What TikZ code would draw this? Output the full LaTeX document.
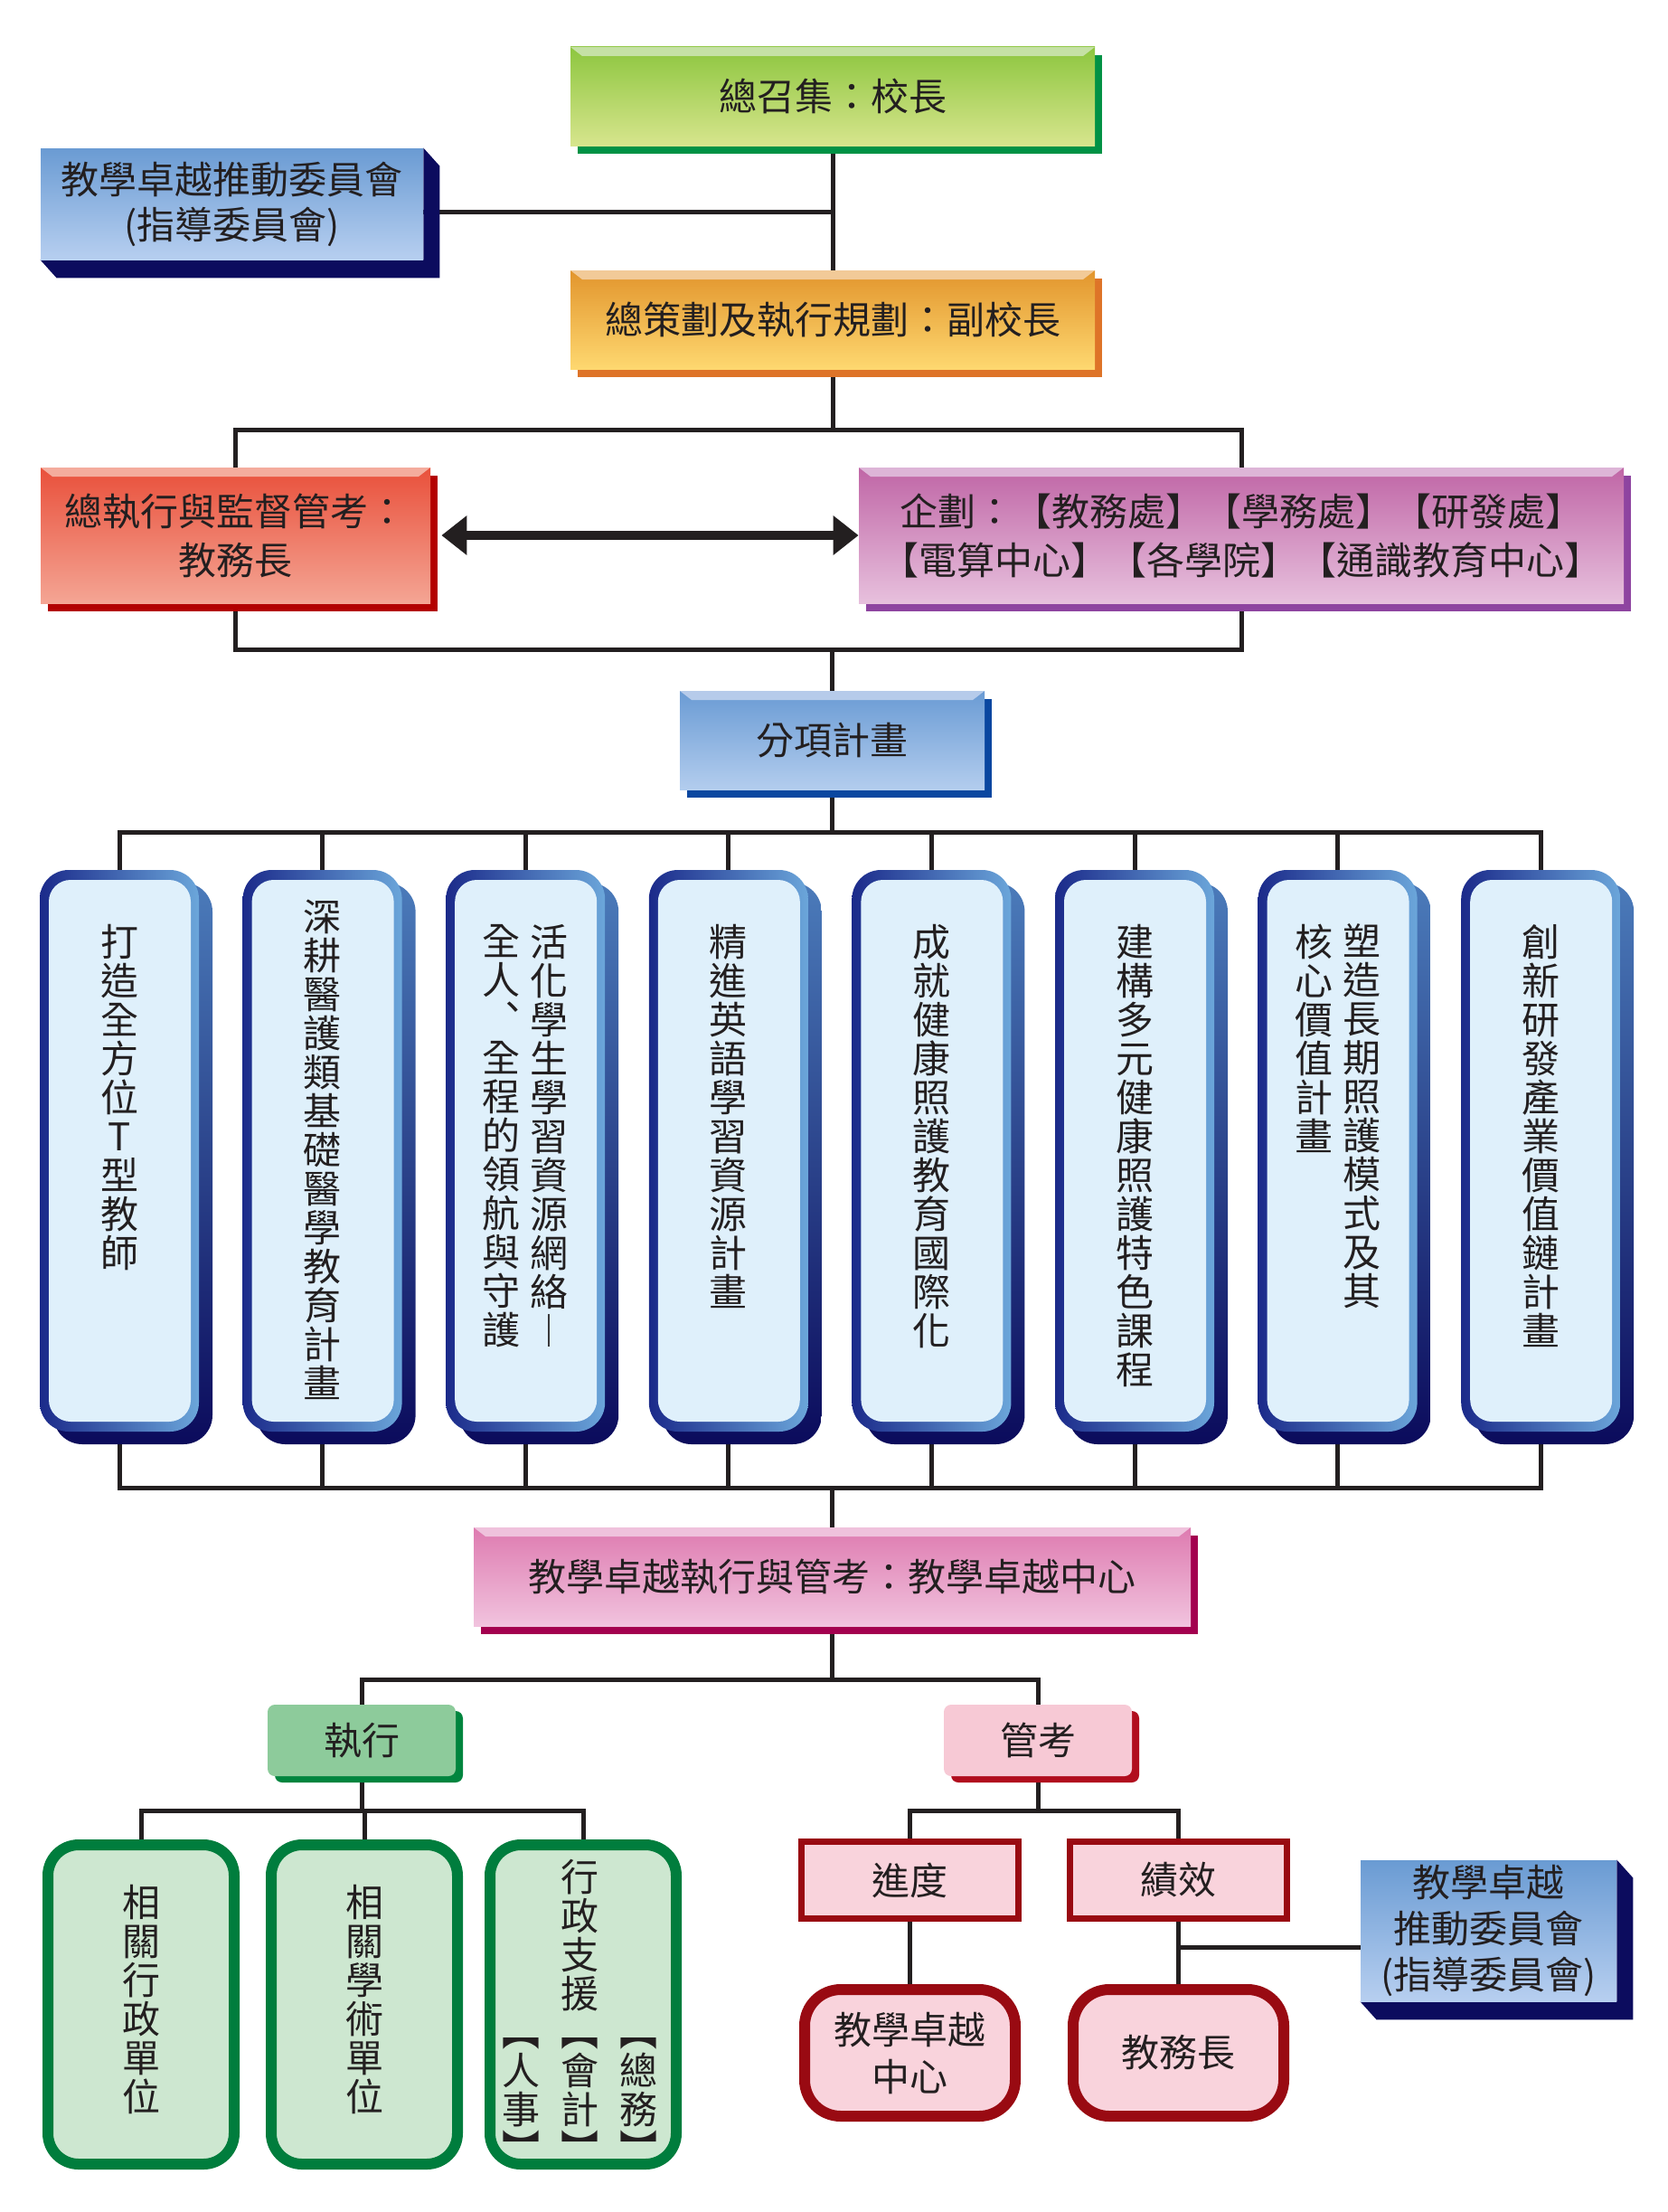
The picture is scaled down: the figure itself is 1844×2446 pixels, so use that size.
\documentclass[tikz,border=0pt]{standalone}
\usepackage{fontspec}
\setmainfont{Noto Sans CJK TC}
\usetikzlibrary{positioning, arrows.meta, calc}
\pgfdeclarelayer{bg}
\pgfsetlayers{bg,main}

\definecolor{ink}{HTML}{231F20}
% green head
\definecolor{gtop}{HTML}{8DC63F}\definecolor{gbot}{HTML}{D7E58D}
\definecolor{ghl}{HTML}{C5E1A5}\definecolor{gsh}{HTML}{009245}
% committee blue
\definecolor{ctop}{HTML}{6A9BD3}\definecolor{cbot}{HTML}{B7CFF0}\definecolor{csh}{HTML}{0C0C5E}
% orange
\definecolor{otop}{HTML}{E2952D}\definecolor{obot}{HTML}{FED870}
\definecolor{ohl}{HTML}{F2CA98}\definecolor{osh}{HTML}{DE7428}\definecolor{osr}{HTML}{A8321E}
% red
\definecolor{rtop}{HTML}{E9503B}\definecolor{rbot}{HTML}{F4A594}
\definecolor{rhl}{HTML}{F4AC9D}\definecolor{rsh}{HTML}{B30000}
% purple
\definecolor{ptop}{HTML}{C066A6}\definecolor{pbot}{HTML}{E7C0DD}
\definecolor{phl}{HTML}{DDB5D7}\definecolor{psh}{HTML}{8E44A0}\definecolor{psr}{HTML}{6A1E7E}
% sub plan blue
\definecolor{stop}{HTML}{6A9BD4}\definecolor{sbot}{HTML}{B3CDEE}
\definecolor{shl}{HTML}{B6CBEA}\definecolor{ssh}{HTML}{0A47A0}\definecolor{ssr}{HTML}{000F6E}
% pink centre
\definecolor{ktop}{HTML}{DE7BB0}\definecolor{kbot}{HTML}{F1C3DE}
\definecolor{khl}{HTML}{EFC2DC}\definecolor{ksh}{HTML}{A3004F}
% tall boxes
\definecolor{tnavy}{HTML}{1B2A8A}\definecolor{tlight}{HTML}{6BA6DA}\definecolor{tface}{HTML}{DFF0FB}
\definecolor{tshtop}{HTML}{4B7BBA}\definecolor{tshbot}{HTML}{0B0B5C}
% lower part
\definecolor{dofill}{HTML}{8DCB9B}\definecolor{dosh}{HTML}{00853E}
\definecolor{chkfill}{HTML}{F7C9D5}\definecolor{chksh}{HTML}{B10D1E}
\definecolor{gbd}{HTML}{007D3D}\definecolor{gbf}{HTML}{CDE7D0}
\definecolor{rbd}{HTML}{990A12}\definecolor{rbf}{HTML}{F9D3DC}

\tikzset{
  conn/.style={draw=ink, line width=2.5pt},
  lbl/.style={font=\fontsize{21pt}{27pt}\selectfont, text=ink, align=center, inner sep=0pt},
  vcol/.style={font=\fontsize{21pt}{21.5pt}\selectfont, text=ink, align=center, inner sep=0pt},
  bev/.style n args={5}{lbl, rectangle, top color=#2, bottom color=#3,
    path picture={\fill[#1] (path picture bounding box.north west) -- (path picture bounding box.north east)
      -- ([shift={(-6.5pt,-5pt)}]path picture bounding box.north east)
      -- ([shift={(6.5pt,-5pt)}]path picture bounding box.north west) -- cycle;},
    preaction={fill=#4, transform canvas={shift={(4pt,-4.5pt)}}},
    append after command={\pgfextra{\fill[#5] ([shift={(0pt,-4.5pt)}]\tikzlastnode.north east) rectangle ([shift={(4pt,-4.5pt)}]\tikzlastnode.south east);}}},
  ext/.style n args={3}{lbl, rectangle, top color=#1, bottom color=#2,
    append after command={\pgfextra{\fill[#3] (\tikzlastnode.north east) -- ++(9pt,-10pt)
      -- ([shift={(9pt,-10pt)}]\tikzlastnode.south east) -- ([shift={(9pt,-10pt)}]\tikzlastnode.south west)
      -- (\tikzlastnode.south west) -- (\tikzlastnode.south east) -- cycle;}}},
  tall/.style={rectangle, rounded corners=16pt, minimum width=88pt, minimum height=310.5pt, inner sep=0pt,
    left color=tnavy, right color=tlight,
    preaction={top color=tshtop, bottom color=tshbot, transform canvas={shift={(7.5pt,-7pt)}}},
    path picture={\fill[tface, rounded corners=12pt] ([shift={(5pt,-5.5pt)}]path picture bounding box.north west)
      rectangle ([shift={(-4.5pt,5.5pt)}]path picture bounding box.south east);}},
  sbox/.style 2 args={lbl, rectangle, rounded corners=4pt, fill=#1,
    preaction={fill=#2, transform canvas={shift={(4pt,-3.5pt)}}}, minimum width=104pt, minimum height=39.5pt},
  gbox/.style={rectangle, rounded corners=17pt, draw=gbd, line width=6pt, fill=gbf,
    minimum width=103pt, minimum height=176.5pt, inner sep=0pt},
  rbox/.style={lbl, rectangle, draw=rbd, line width=3.5pt, fill=rbf, minimum width=120pt, minimum height=42.5pt},
  rrbox/.style={lbl, rectangle, rounded corners=20pt, draw=rbd, line width=6pt, fill=rbf,
    minimum width=116.5pt, minimum height=70pt},
  dbl/.style={draw=ink, line width=5pt, {Triangle[length=14pt,width=21pt]}-{Triangle[length=14pt,width=21pt]}}
}

\begin{document}
\begin{tikzpicture}[x=0.5pt,y=-0.5pt]
\useasboundingbox (0,0) rectangle (1844,2446);
\begin{pgfonlayer}{bg}
  \fill[white] (0,0) rectangle (1844,2446);
\end{pgfonlayer}

% head boxes
\node[bev={ghl}{gtop}{gbot}{gsh}{gsh}, minimum width=290pt, minimum height=54.5pt] (top) at (921,106.5) {總召集：校長};
\node[ext={ctop}{cbot}{csh}, minimum width=211.5pt, minimum height=61.5pt, font=\fontsize{21pt}{25pt}\selectfont] (comm) at (256.5,225.5) {教學卓越推動委員會\\(指導委員會)};
\node[bev={ohl}{otop}{obot}{osh}{osr}, minimum width=290pt, minimum height=54.5pt] (plan) at (921,353.5) {總策劃及執行規劃：副校長};
\node[bev={rhl}{rtop}{rbot}{rsh}{rsh}, minimum width=215.5pt, minimum height=75pt] (exec) at (260.5,592) {總執行與監督管考：\\教務長};
\node[bev={phl}{ptop}{pbot}{psh}{psr}, minimum width=423pt, minimum height=75pt] (plann) at (1373,592) {企劃：【教務處】【學務處】【研發處】\\【電算中心】【各學院】【通識教育中心】};
\node[bev={shl}{stop}{sbot}{ssh}{ssr}, minimum width=168.5pt, minimum height=54.5pt] (sub) at (920.5,818.5) {分項計畫};

\draw[dbl] ([xshift=6pt]exec.east) -- (plann.west);

% sub plans
\foreach \i in {1,...,8}{
  \pgfmathsetmacro{\cx}{132+224.6*(\i-1)}
  \node[tall] (b\i) at (\cx,1272.5) {};
}
\node[vcol, below=30pt of b1.north] (t1) {打\\造\\全\\方\\位\\T\\型\\教\\師};
\node[vcol, below=16.5pt of b2.north] (t2) {深\\耕\\醫\\護\\類\\基\\礎\\醫\\學\\教\\育\\計\\畫};
\node[vcol, below=30pt of b3.north, xshift=13.25pt] (t3r) {活\\化\\學\\生\\學\\習\\資\\源\\網\\絡\\︱};
\node[vcol, below=30pt of b3.north, xshift=-13.25pt] (t3l) {全\\人\\︑\\全\\程\\的\\領\\航\\與\\守\\護};
\node[vcol, below=30pt of b4.north] (t4) {精\\進\\英\\語\\學\\習\\資\\源\\計\\畫};
\node[vcol, below=30pt of b5.north] (t5) {成\\就\\健\\康\\照\\護\\教\\育\\國\\際\\化};
\node[vcol, below=30pt of b6.north] (t6) {建\\構\\多\\元\\健\\康\\照\\護\\特\\色\\課\\程};
\node[vcol, below=30pt of b7.north, xshift=13.25pt] (t7r) {塑\\造\\長\\期\\照\\護\\模\\式\\及\\其};
\node[vcol, below=30pt of b7.north, xshift=-13.25pt] (t7l) {核\\心\\價\\值\\計\\畫};
\node[vcol, below=30pt of b8.north] (t8) {創\\新\\研\\發\\產\\業\\價\\值\\鏈\\計\\畫};

% centre
\node[bev={khl}{ktop}{kbot}{ksh}{ksh}, minimum width=396.5pt, minimum height=54.5pt] (ctr) at (920.5,1743.5) {教學卓越執行與管考：教學卓越中心};

% execute side
\node[sbox={dofill}{dosh}] (do) at (400,1924.5) {執行};
\node[gbox] (g1) at (156,2216.5) {};
\node[gbox] (g2) at (403,2216.5) {};
\node[gbox] (g3) at (645,2216.5) {};
\node[vcol, below=25pt of g1.north] (g1t) {相\\關\\行\\政\\單\\位};
\node[vcol, below=25pt of g2.north] (g2t) {相\\關\\學\\術\\單\\位};
\node[vcol, below=11pt of g3.north, xshift=-2pt] (g3t) {行\\政\\支\\援};
\node[vcol, below=109.5pt of g3.north, xshift=30.5pt] (gzw) {︻\\總\\務\\︼};
\node[vcol, below=109.5pt of g3.north, xshift=-2pt] (gkj) {︻\\會\\計\\︼};
\node[vcol, below=109.5pt of g3.north, xshift=-34.5pt] (grs) {︻\\人\\事\\︼};

% review side
\node[sbox={chkfill}{chksh}] (chk) at (1148,1924.5) {管考};
\node[rbox] (prog) at (1006.5,2079) {進度};
\node[rbox] (perf) at (1303.5,2079) {績效};
\node[rrbox, font=\fontsize{21pt}{26pt}\selectfont] (ctr2) at (1006.5,2270) {教學卓越\\中心};
\node[rrbox] (dean2) at (1303.5,2270) {教務長};
\node[ext={ctop}{cbot}{csh}, minimum width=141.5pt, minimum height=78pt, font=\fontsize{21pt}{25.5pt}\selectfont] (comm2) at (1646.5,2135) {教學卓越\\推動委員會\\(指導委員會)};

% connectors
\begin{pgfonlayer}{bg}
  \coordinate (cj) at ([yshift=-4.5pt]comm.east);
  \coordinate (cj2) at ([yshift=-9pt]comm2.west);
  \draw[conn] (top.south) -- (plan.north);
  \draw[conn] (cj) -- (cj -| top.south);
  \draw[conn] (plan.south) -- ++(0,67) -| (exec.north);
  \draw[conn] (plan.south) -- ++(0,67) -| (plann.north);
  \draw[conn] (exec.south) -- ++(0,51) -| (plann.south);
  \draw[conn] (sub.north) -- ++(0,-46);
  \foreach \i in {1,...,8}{
    \draw[conn] (sub.south) -- ++(0,47) -| (b\i.north);
    \draw[conn] (b\i.south) -- ++(0,62) -| (ctr.north);
  }
  \draw[conn] (ctr.south) -- ++(0,59) -| (do.north);
  \draw[conn] (ctr.south) -- ++(0,59) -| (chk.north);
  \foreach \g in {g1,g2,g3}
    \draw[conn] (do.south) -- ++(0,38) -| (\g.north);
  \draw[conn] (chk.south) -- ++(0,38) -| (prog.north);
  \draw[conn] (chk.south) -- ++(0,38) -| (perf.north);
  \draw[conn] (prog.south) -- (ctr2.north);
  \draw[conn] (perf.south) -- (dean2.north);
  \draw[conn] (cj2) -- (cj2 -| perf.south);
\end{pgfonlayer}
\end{tikzpicture}
\end{document}
